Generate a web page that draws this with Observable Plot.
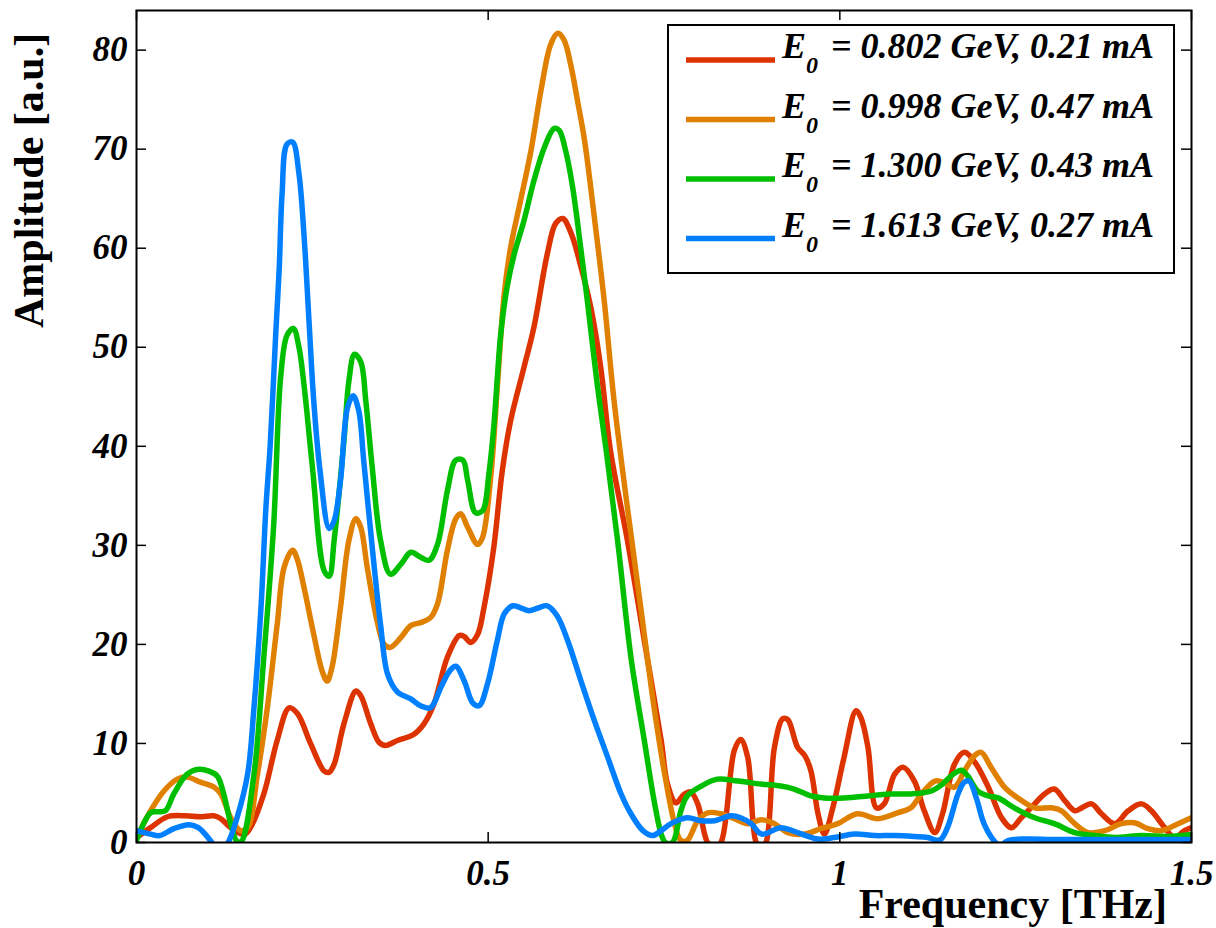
<!DOCTYPE html>
<html><head><meta charset="utf-8">
<script src="https://cdn.jsdelivr.net/npm/d3@7"></script>
<script src="https://cdn.jsdelivr.net/npm/@observablehq/plot@0.6"></script>
<style>
html,body{margin:0;padding:0;background:#fff;}
#chart{width:1216px;height:928px;}
</style></head><body><div id="chart"></div>
<script>
// ---- data (frequency [THz], amplitude [a.u.]) ----
const energies = ["0.802", "0.998", "1.300", "1.613"];
const currents = ["0.21", "0.47", "0.43", "0.27"];
const colors = ["#DD3300", "#E08000", "#00BE00", "#0080FF"];
const xTicks = [0, 0.5, 1, 1.5];
const yTicks = [0, 10, 20, 30, 40, 50, 60, 70, 80];

const red = [[0,0.5],[0.02,1.5],[0.044,2.6],[0.07,2.7],[0.09,2.6],[0.11,2.7],[0.12,2.4],[0.134,1.5],[0.153,0.8],[0.162,1.5],[0.181,4.9],[0.2,10.3],[0.217,13.6],[0.229,13],[0.248,9.9],[0.267,7.2],[0.274,7.1],[0.281,7.9],[0.295,12],[0.312,15.3],[0.319,14.8],[0.333,12],[0.345,10.1],[0.354,9.8],[0.371,10.3],[0.394,10.9],[0.409,12],[0.423,14],[0.442,18.7],[0.459,20.9],[0.466,20.8],[0.475,20.2],[0.485,21],[0.494,23.7],[0.508,29.8],[0.52,37.5],[0.532,42.6],[0.551,48],[0.565,52],[0.584,59.4],[0.596,62.5],[0.606,63],[0.618,61.5],[0.632,58.1],[0.646,54],[0.66,48],[0.674,39.5],[0.698,30.5],[0.722,20.4],[0.746,10.3],[0.755,5.9],[0.767,4.0],[0.779,4.9],[0.788,5.1],[0.798,3.9],[0.812,0],[0.822,-0.5],[0.831,0],[0.85,9.3],[0.859,10.4],[0.869,8.6],[0.881,0],[0.888,-0.5],[0.895,0],[0.907,9.6],[0.919,12.5],[0.926,12.4],[0.94,9.6],[0.95,8.8],[0.959,7.2],[0.969,2.9],[0.978,0.85],[0.99,3.5],[1.006,8.6],[1.023,13.3],[1.03,12.6],[1.04,9.6],[1.052,3.5],[1.063,3.9],[1.078,6.9],[1.09,7.6],[1.106,6.2],[1.12,3.2],[1.135,1.0],[1.146,2.9],[1.163,7.9],[1.177,9.1],[1.192,8.1],[1.211,5.6],[1.23,2.5],[1.244,1.5],[1.258,2.5],[1.277,3.9],[1.291,4.9],[1.305,5.4],[1.32,4.2],[1.334,3.2],[1.344,3.5],[1.358,3.9],[1.372,2.9],[1.391,1.9],[1.41,3.2],[1.429,3.9],[1.443,3.2],[1.462,1.5],[1.476,0.5],[1.49,1.2],[1.5,1.5]];

const orange = [[0,0.5],[0.02,3.2],[0.039,5.2],[0.058,6.4],[0.072,6.6],[0.091,6.1],[0.11,5.6],[0.12,4.9],[0.134,2.5],[0.148,1.2],[0.158,1.5],[0.172,6.9],[0.186,13.6],[0.2,22],[0.21,27.8],[0.222,29.5],[0.229,28.5],[0.238,25.8],[0.252,21],[0.264,17.3],[0.271,16.3],[0.278,17.7],[0.29,23.7],[0.302,30.5],[0.312,32.7],[0.319,31.8],[0.328,27.8],[0.342,22.4],[0.352,20],[0.361,19.7],[0.376,20.7],[0.39,21.9],[0.404,22.2],[0.418,22.7],[0.428,24.1],[0.442,29.5],[0.454,32.7],[0.461,33.2],[0.471,31.8],[0.485,30.1],[0.492,30.8],[0.504,37.2],[0.513,46],[0.523,55.5],[0.532,60.1],[0.546,64.8],[0.561,69.9],[0.575,75.9],[0.589,80.6],[0.599,81.7],[0.608,81],[0.618,78.3],[0.627,74.9],[0.637,70.9],[0.651,63.1],[0.665,54.7],[0.679,44.6],[0.698,33.8],[0.717,23.7],[0.736,13.6],[0.751,6.9],[0.765,1.9],[0.774,0.2],[0.783,0.2],[0.798,2.2],[0.812,3.0],[0.831,2.9],[0.85,2.4],[0.869,1.9],[0.888,2.3],[0.907,1.9],[0.926,1.0],[0.95,0.85],[0.973,1.4],[0.997,1.9],[1.025,2.9],[1.054,2.4],[1.082,3.0],[1.101,3.5],[1.116,4.9],[1.135,6.2],[1.146,6.1],[1.163,5.6],[1.177,7.2],[1.192,8.8],[1.201,9.1],[1.215,7.6],[1.234,5.6],[1.253,4.5],[1.277,3.5],[1.301,3.5],[1.315,3.2],[1.334,1.9],[1.353,1.0],[1.377,1.2],[1.4,1.9],[1.419,2.0],[1.438,1.4],[1.457,1.2],[1.481,1.9],[1.5,2.5]];

const green = [[0,0.2],[0.02,3.0],[0.029,3.1],[0.041,3.2],[0.053,4.9],[0.072,6.9],[0.089,7.4],[0.103,7.2],[0.115,6.7],[0.124,4.9],[0.134,1.9],[0.143,0.1],[0.149,0.1],[0.167,6.9],[0.181,18.7],[0.195,32],[0.205,47],[0.214,51.2],[0.223,51.9],[0.231,50],[0.238,46.3],[0.25,38],[0.267,27.4],[0.274,26.9],[0.281,30.5],[0.295,40.6],[0.302,46.6],[0.31,49.3],[0.319,48.5],[0.326,44.6],[0.335,38],[0.347,30.5],[0.361,27.1],[0.376,28.1],[0.39,29.3],[0.404,28.8],[0.416,28.5],[0.428,30.1],[0.442,35.5],[0.454,38.6],[0.464,38.6],[0.471,36.5],[0.482,33.3],[0.492,33.5],[0.501,37.2],[0.508,42],[0.518,51.4],[0.527,56.1],[0.537,59.4],[0.551,62.8],[0.565,66.8],[0.58,70.2],[0.594,72.1],[0.601,71.9],[0.61,69.9],[0.62,66.2],[0.632,59.8],[0.641,54.7],[0.655,46.3],[0.668,39.5],[0.684,30.5],[0.703,18.7],[0.722,10.3],[0.736,4.2],[0.746,0.85],[0.752,0],[0.762,0],[0.774,3.2],[0.783,4.7],[0.803,5.7],[0.826,6.4],[0.855,6.2],[0.888,5.9],[0.916,5.7],[0.935,5.4],[0.959,4.7],[0.978,4.5],[1.006,4.5],[1.04,4.7],[1.069,4.9],[1.101,4.9],[1.13,5.2],[1.146,5.9],[1.161,6.9],[1.173,7.3],[1.182,6.7],[1.196,5.2],[1.211,4.7],[1.225,4.5],[1.248,3.5],[1.277,2.5],[1.305,1.9],[1.334,1.0],[1.362,0.7],[1.391,0.5],[1.429,0.7],[1.467,0.6],[1.5,0.8]];

const blue = [[0,1.2],[0.02,0.85],[0.033,0.7],[0.053,1.4],[0.075,1.8],[0.088,1.5],[0.105,0.2],[0.115,-0.8],[0.125,-0.5],[0.131,0.1],[0.143,2.5],[0.158,6.9],[0.167,13.6],[0.177,23.7],[0.184,33.8],[0.19,40],[0.198,51.4],[0.203,58.1],[0.207,65.5],[0.214,70.5],[0.222,70.7],[0.231,67.5],[0.238,61.5],[0.245,53],[0.252,44.6],[0.261,37.5],[0.274,31.7],[0.281,32.5],[0.29,36.5],[0.3,43.9],[0.308,45.1],[0.316,43.6],[0.323,38.6],[0.338,27.8],[0.347,22],[0.357,17],[0.371,15.2],[0.39,14.5],[0.404,13.8],[0.418,13.6],[0.433,15.7],[0.445,17.3],[0.454,17.8],[0.466,16.3],[0.478,14.1],[0.487,13.8],[0.499,16],[0.513,20.4],[0.523,23.1],[0.535,23.9],[0.546,23.7],[0.558,23.4],[0.572,23.7],[0.584,23.9],[0.598,22.9],[0.613,20.4],[0.632,16.3],[0.651,12.3],[0.67,8.6],[0.689,4.9],[0.703,2.9],[0.72,1.2],[0.734,0.7],[0.746,1.2],[0.76,1.9],[0.783,2.5],[0.803,2.2],[0.822,2.2],[0.845,2.7],[0.859,2.5],[0.874,1.9],[0.889,0.85],[0.916,1.5],[0.94,1.0],[0.969,0.35],[0.992,0.5],[1.021,0.85],[1.049,0.7],[1.078,0.7],[1.106,0.6],[1.125,0.5],[1.142,0.25],[1.153,1.5],[1.168,4.9],[1.177,6.1],[1.184,6.2],[1.194,4.5],[1.205,1.9],[1.219,0.2],[1.228,-0.3],[1.239,0.2],[1.267,0.35],[1.3,0.3],[1.35,0.3],[1.4,0.3],[1.45,0.3],[1.5,0.3]];

const series = [red, orange, green, blue];
const data = series.flatMap((pts, i) => pts.map(([f, a]) => ({f, a, s: i})));

// ---- layout ----
const W = 1216, H = 928, mL = 136, mR = 25, mT = 10, mB = 86;
const plotW = W - mL - mR, plotH = H - mT - mB;
const font = "'Liberation Serif','Times New Roman',Times,serif";
const tickFont = {fontSize: 35, fontStyle: "italic", fontWeight: "bold", fontFamily: font};

const chart = Plot.plot({
  width: W, height: H,
  marginLeft: mL, marginRight: mR, marginTop: mT, marginBottom: mB,
  style: {background: "#fff", fontFamily: font, color: "#000"},
  x: {domain: [0, 1.5]},
  y: {domain: [0, 84]},
  color: {type: "ordinal", domain: [0, 1, 2, 3], range: colors},
  marks: [
    Plot.line(data, {x: "f", y: "a", z: "s", stroke: "s", strokeWidth: 5.5, curve: "catmull-rom",
      clip: true, strokeLinejoin: "round", strokeLinecap: "round"}),
    Plot.tickY(yTicks, {y: d => d, insetRight: plotW - 10, stroke: "#000", strokeWidth: 1.5}),
    Plot.tickY(yTicks, {y: d => d, insetLeft: plotW - 10, stroke: "#000", strokeWidth: 1.5}),
    Plot.tickX(xTicks, {x: d => d, insetTop: plotH - 10, stroke: "#000", strokeWidth: 1.5}),
    Plot.tickX(xTicks, {x: d => d, insetBottom: plotH - 10, stroke: "#000", strokeWidth: 1.5}),
    Plot.frame({stroke: "#000", strokeWidth: 2}),
    Plot.axisX(xTicks, {tickSize: 0, tickPadding: 18, tickFormat: d => String(d), label: null, ...tickFont}),
    Plot.axisY(yTicks, {tickSize: 0, tickPadding: 9, tickFormat: d => String(d), label: null, ...tickFont})
  ]
});
document.getElementById("chart").appendChild(chart);

// ---- axis titles and legend ----
const svg = d3.select(chart);
const g = svg.append("g").attr("font-family", font).attr("fill", "#000");
g.append("text")
  .attr("transform", "translate(43,328) rotate(-90)")
  .attr("text-anchor", "start")
  .attr("font-size", 42).attr("font-weight", "bold")
  .text("Amplitude [a.u.]");
g.append("text")
  .attr("x", 1167).attr("y", 918).attr("text-anchor", "end")
  .attr("font-size", 42).attr("font-weight", "bold")
  .text("Frequency [THz]");

const lg = svg.append("g").attr("font-family", font);
lg.append("rect").attr("x", 668).attr("y", 25).attr("width", 506).attr("height", 248)
  .attr("fill", "#fff").attr("stroke", "#000").attr("stroke-width", 2);
energies.forEach((e, i) => {
  const y = 60 + i * 59.5;
  lg.append("line").attr("x1", 686).attr("x2", 775).attr("y1", y).attr("y2", y)
    .attr("stroke", colors[i]).attr("stroke-width", 5.5);
  const t = lg.append("text").attr("x", 782).attr("y", y - 2).attr("text-anchor", "start")
    .attr("font-size", 36).attr("font-weight", "bold").attr("font-style", "italic").attr("fill", "#000");
  t.append("tspan").text("E");
  t.append("tspan").attr("dy", 15).attr("font-size", 24).text("0");
  t.append("tspan").attr("dy", -15).attr("dx", 4).text(` = ${e} GeV, ${currents[i]} mA`);
});
</script></body></html>
